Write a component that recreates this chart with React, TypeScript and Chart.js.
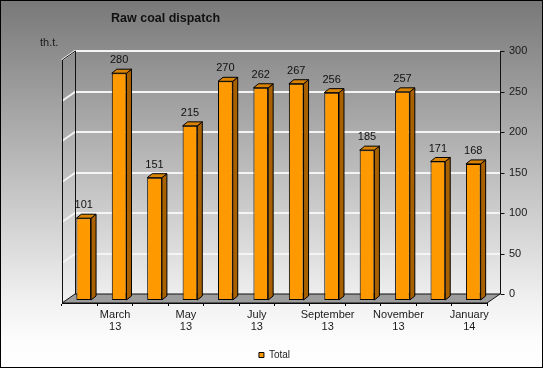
import React, { useEffect, useRef } from 'react';
import { Chart, registerables } from 'chart.js';

Chart.register(...registerables);
Chart.defaults.font.family = '"Liberation Sans", Arial, sans-serif';

const months = ['February', 'March', 'April', 'May', 'June', 'July', 'August', 'September', 'October', 'November', 'December', 'January'];
const years = ['13', '13', '13', '13', '13', '13', '13', '13', '13', '13', '13', '14'];
const totals = [101, 280, 151, 215, 270, 262, 267, 256, 185, 257, 171, 168];
const yTicks = [0, 50, 100, 150, 200, 250, 300];
const seriesName = 'Total';
const chartTitle = 'Raw coal dispatch';
const unitLabel = 'th.t.';

// 3D geometry (styles, not data)
const WALL_DX = 13;
const WALL_DY = 9;
const BAR_SHIFT_X = 4;
const BAR_SHIFT_Y = 3;
const BAR_DX = 5;
const BAR_DY = 4;

const threeD = {
  id: 'threeD',
  beforeDraw(chart: any) {
    const { ctx, width, height } = chart;
    ctx.save();
    const g = ctx.createLinearGradient(0, 0, 0, height);
    g.addColorStop(0, '#787878');
    g.addColorStop(0.82, '#f1f1f1');
    g.addColorStop(0.92, '#fcfcfc');
    g.addColorStop(1, '#ffffff');
    ctx.fillStyle = g;
    ctx.fillRect(0, 0, width, height);
    ctx.strokeStyle = '#000';
    ctx.lineWidth = 1;
    ctx.strokeRect(0.5, 0.5, width - 1, height - 1);
    // title & unit
    ctx.fillStyle = '#111';
    ctx.textBaseline = 'middle';
    ctx.textAlign = 'left';
    ctx.font = 'bold 12.5px "Liberation Sans", Arial, sans-serif';
    ctx.fillText(chartTitle, 111, 19);
    ctx.font = '11px "Liberation Sans", Arial, sans-serif';
    ctx.fillStyle = '#1a1a1a';
    ctx.fillText(unitLabel, 40, 43);
    ctx.restore();
  },
  beforeDatasetsDraw(chart: any) {
    const { ctx, chartArea: a, scales } = chart;
    const y = scales.y;
    ctx.save();
    // grid lines on back and left walls
    ctx.strokeStyle = '#f4f4f4';
    ctx.lineWidth = 2;
    y.ticks.forEach((t: any) => {
      if (t.value <= 0) return;
      const py = Math.round(y.getPixelForValue(t.value));
      ctx.beginPath();
      ctx.moveTo(a.left, py);
      ctx.lineTo(a.left + WALL_DX, py - WALL_DY);
      ctx.lineTo(a.right + WALL_DX, py - WALL_DY);
      ctx.stroke();
    });
    // floor
    ctx.beginPath();
    ctx.moveTo(a.left, a.bottom);
    ctx.lineTo(a.right, a.bottom);
    ctx.lineTo(a.right + WALL_DX, a.bottom - WALL_DY);
    ctx.lineTo(a.left + WALL_DX, a.bottom - WALL_DY);
    ctx.closePath();
    ctx.fillStyle = '#9c9c9c';
    ctx.fill();
    ctx.lineWidth = 1;
    ctx.strokeStyle = '#111';
    ctx.stroke();
    // left wall edges
    ctx.beginPath();
    ctx.moveTo(a.left + 0.5, a.bottom);
    ctx.lineTo(a.left + 0.5, a.top);
    ctx.lineTo(a.left + WALL_DX + 0.5, a.top - WALL_DY);
    ctx.lineTo(a.left + WALL_DX + 0.5, a.bottom - WALL_DY);
    ctx.stroke();
    // right value axis on the back plane
    const ax = Math.round(a.right + WALL_DX) + 0.5;
    ctx.beginPath();
    ctx.moveTo(ax, a.top - WALL_DY);
    ctx.lineTo(ax, a.bottom - WALL_DY);
    y.ticks.forEach((t: any) => {
      const py = Math.round(y.getPixelForValue(t.value) - WALL_DY) + 0.5;
      ctx.moveTo(ax, py);
      ctx.lineTo(ax + 4, py);
    });
    ctx.stroke();
    ctx.restore();
    ctx.save();
    ctx.translate(BAR_SHIFT_X, -BAR_SHIFT_Y);
  },
  afterDatasetsDraw(chart: any) {
    const { ctx } = chart;
    const meta = chart.getDatasetMeta(0);
    const ds = chart.data.datasets[0];
    meta.data.forEach((el: any, i: number) => {
      const L = el.x - el.width / 2;
      const R = el.x + el.width / 2;
      const T = el.y;
      const B = el.base;
      ctx.lineWidth = 1;
      ctx.strokeStyle = '#000';
      ctx.beginPath();
      ctx.moveTo(R, T);
      ctx.lineTo(R + BAR_DX, T - BAR_DY);
      ctx.lineTo(R + BAR_DX, B - BAR_DY);
      ctx.lineTo(R, B);
      ctx.closePath();
      ctx.fillStyle = '#a96100';
      ctx.fill();
      ctx.stroke();
      ctx.beginPath();
      ctx.moveTo(L, T);
      ctx.lineTo(L + BAR_DX, T - BAR_DY);
      ctx.lineTo(R + BAR_DX, T - BAR_DY);
      ctx.lineTo(R, T);
      ctx.closePath();
      ctx.fillStyle = '#d98300';
      ctx.fill();
      ctx.stroke();
      ctx.fillStyle = '#111';
      ctx.font = '11px "Liberation Sans", Arial, sans-serif';
      ctx.textAlign = 'center';
      ctx.textBaseline = 'middle';
      ctx.fillText(String(ds.data[i]), el.x, T - 13);
    });
    ctx.restore();
  },
};

export default function App() {
  const ref = useRef<HTMLCanvasElement>(null);
  useEffect(() => {
    if (!ref.current) return;
    const chart = new Chart(ref.current, {
      type: 'bar',
      data: {
        labels: months.map((m, i) => `${m} ${years[i]}`),
        datasets: [
          {
            label: seriesName,
            data: totals,
            backgroundColor: '#ff9900',
            borderColor: '#000',
            borderWidth: 1,
            borderSkipped: false,
            barPercentage: 0.415,
            categoryPercentage: 1,
            clip: false,
          } as any,
        ],
      },
      options: {
        animation: false,
        responsive: false,
        layout: { padding: { left: 62, top: 60, right: 0, bottom: -2 } },
        scales: {
          x: {
            offset: true,
            grid: { display: true, drawOnChartArea: false, drawTicks: true, tickLength: 3, color: '#000', offset: true },
            border: { display: true, color: '#000', width: 1 },
            ticks: {
              autoSkip: false,
              maxRotation: 0,
              minRotation: 0,
              padding: 3,
              color: '#1a1a1a',
              font: { size: 11, lineHeight: 1.1 },
              callback: (_v: any, i: number) => (i % 2 === 1 ? [months[i], years[i]] : ''),
            },
            afterFit: (s: any) => {
              s.height = 43;
            },
          },
          y: {
            position: 'right',
            min: 0,
            max: 300,
            afterBuildTicks: (s: any) => {
              s.ticks = yTicks.map((v) => ({ value: v }));
            },
            ticks: { padding: 22, labelOffset: -9, color: '#1a1a1a', font: { size: 11 } },
            grid: { display: false, drawTicks: false },
            border: { display: false },
            afterFit: (s: any) => {
              s.width = 56;
            },
          },
        },
        plugins: {
          legend: {
            position: 'bottom',
            fullSize: false,
            labels: { boxWidth: 5, boxHeight: 5, padding: 4, font: { size: 10 }, color: '#222' },
          },
          tooltip: { enabled: false },
          title: { display: false },
        },
      } as any,
      plugins: [threeD],
    });
    return () => chart.destroy();
  }, []);
  return (
    <div style={{ position: 'fixed', left: 0, top: 0, width: 543, height: 368 }}>
      <canvas ref={ref} width={543} height={368} style={{ display: 'block' }} />
    </div>
  );
}
